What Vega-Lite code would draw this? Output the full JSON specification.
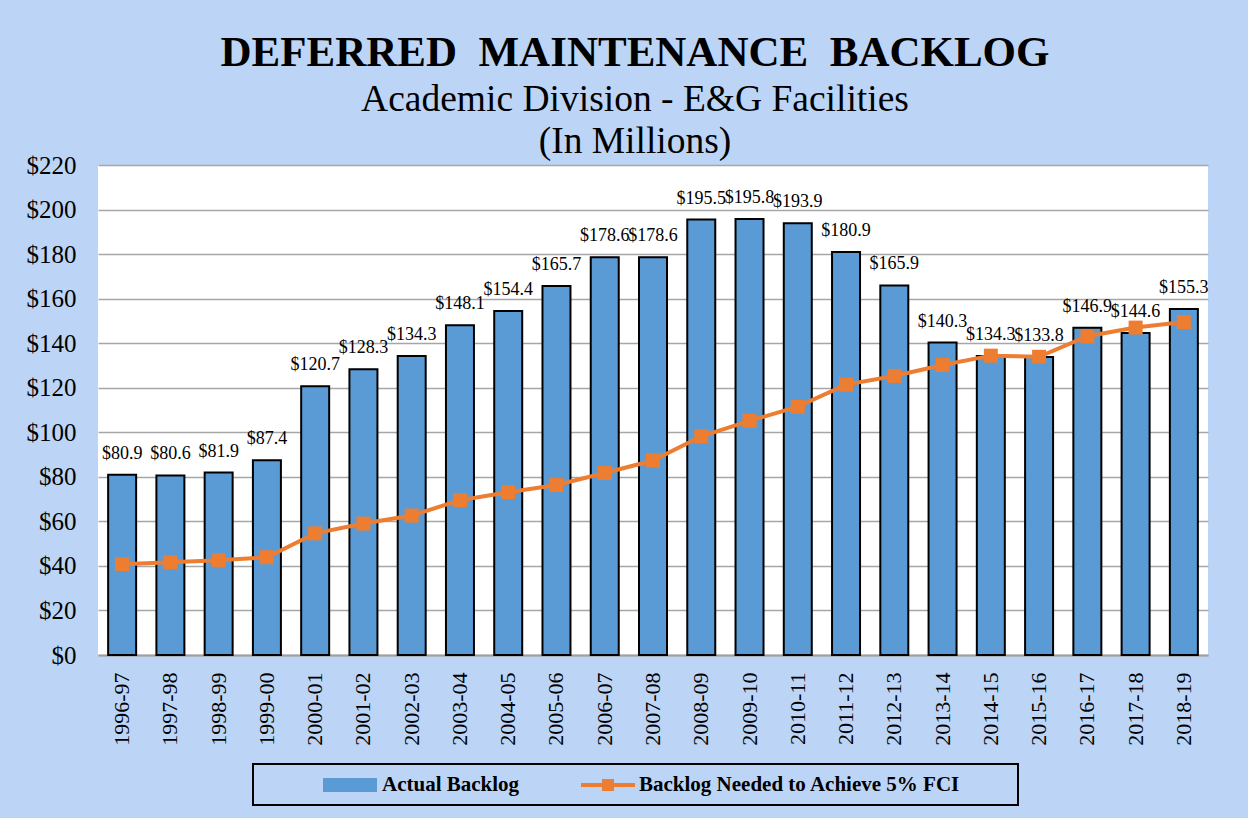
{
  "$schema": "https://vega.github.io/schema/vega-lite/v6.json",
  "width": 1110,
  "height": 490,
  "autosize": {"type": "none"},
  "padding": {"left": 98, "top": 165, "right": 40, "bottom": 163},
  "background": "#BCD5F7",
  "config": {
    "font": "Liberation Serif",
    "view": {"stroke": null, "fill": "white"},
    "legend": {"strokeWidth": 2}
  },
  "title": {
    "text": "DEFERRED\u00a0 MAINTENANCE\u00a0 BACKLOG",
    "subtitle": ["Academic Division - E&G Facilities", "(In Millions)"],
    "font": "Liberation Serif",
    "fontSize": 43,
    "fontWeight": "bold",
    "color": "black",
    "subtitleFont": "Liberation Serif",
    "subtitleFontSize": 37.5,
    "subtitleColor": "black",
    "subtitleLineHeight": 42,
    "subtitlePadding": 6,
    "anchor": "middle",
    "dx": -18,
    "offset": -7
  },
  "data": {
    "values": [
      {"period": "1996-97", "backlog": 80.9, "needed": 40.8},
      {"period": "1997-98", "backlog": 80.6, "needed": 41.6},
      {"period": "1998-99", "backlog": 81.9, "needed": 42.5},
      {"period": "1999-00", "backlog": 87.4, "needed": 43.9},
      {"period": "2000-01", "backlog": 120.7, "needed": 54.6},
      {"period": "2001-02", "backlog": 128.3, "needed": 59.0},
      {"period": "2002-03", "backlog": 134.3, "needed": 62.6},
      {"period": "2003-04", "backlog": 148.1, "needed": 69.5},
      {"period": "2004-05", "backlog": 154.4, "needed": 73.1},
      {"period": "2005-06", "backlog": 165.7, "needed": 76.3},
      {"period": "2006-07", "backlog": 178.6, "needed": 81.7},
      {"period": "2007-08", "backlog": 178.6, "needed": 87.3},
      {"period": "2008-09", "backlog": 195.5, "needed": 98.2},
      {"period": "2009-10", "backlog": 195.8, "needed": 105.1},
      {"period": "2010-11", "backlog": 193.9, "needed": 111.5},
      {"period": "2011-12", "backlog": 180.9, "needed": 121.4},
      {"period": "2012-13", "backlog": 165.9, "needed": 125.3},
      {"period": "2013-14", "backlog": 140.3, "needed": 130.2},
      {"period": "2014-15", "backlog": 134.3, "needed": 134.4},
      {"period": "2015-16", "backlog": 133.8, "needed": 133.9},
      {"period": "2016-17", "backlog": 146.9, "needed": 143.1},
      {"period": "2017-18", "backlog": 144.6, "needed": 147.0},
      {"period": "2018-19", "backlog": 155.3, "needed": 149.5}
    ]
  },
  "encoding": {
    "x": {
      "field": "period",
      "type": "ordinal",
      "sort": null,
      "scale": {"paddingInner": 0.42, "paddingOuter": 0.21},
      "axis": {
        "title": null,
        "labelAngle": -90,
        "labelFont": "Liberation Serif",
        "labelFontSize": 22,
        "labelColor": "black",
        "labelPadding": 17,
        "ticks": false,
        "domainColor": "#A0A0A0",
        "domainWidth": 2,
        "grid": false
      }
    }
  },
  "layer": [
    {
      "mark": {"type": "bar", "stroke": "black", "strokeWidth": 2},
      "encoding": {
        "y": {
          "field": "backlog",
          "type": "quantitative",
          "scale": {"domain": [0, 220], "nice": false},
          "axis": {
            "title": null,
            "values": [0, 20, 40, 60, 80, 100, 120, 140, 160, 180, 200, 220],
            "format": "$.0f",
            "labelFont": "Liberation Serif",
            "labelFontSize": 25,
            "labelColor": "black",
            "labelPadding": 22,
            "ticks": false,
            "domain": false,
            "gridColor": "#A6A6A6",
            "gridWidth": 1.5
          }
        },
        "color": {
          "datum": "Actual Backlog",
          "type": "nominal",
          "scale": {
            "domain": ["Actual Backlog", "Backlog Needed to Achieve 5% FCI"],
            "range": ["#5B9BD5", "#ED7D31"]
          },
          "legend": {
            "title": "\u00a0",
            "titleOrient": "left",
            "titlePadding": 60,
            "titleFontSize": 21,
            "orient": "none",
            "legendX": 155,
            "legendY": 599,
            "direction": "horizontal",
            "columns": 2,
            "columnPadding": 58,
            "padding": 10,
            "strokeColor": "black",
            "symbolSize": 400,
            "symbolStrokeWidth": 2,
            "symbolOpacity": 1,
            "symbolType": {"expr": "datum.value === 'Actual Backlog' ? 'M-1,-0.6H4.2V0.6H-1Z' : 'M-0.9,-0.1H1.2V-0.5H2.2V-0.1H4.3V0.1H2.2V0.5H1.2V0.1H-0.9Z'"},
            "symbolStrokeColor": {"expr": "datum.value === 'Actual Backlog' ? 'black' : '#ED7D31'"},
            "labelFont": "Liberation Serif",
            "labelFontSize": 21,
            "labelFontWeight": "bold",
            "labelColor": "black",
            "labelOffset": 37,
            "labelLimit": 500,
            "labelExpr": "datum.value === 'Actual Backlog' ? datum.label : datum.label + '\u00a0\u00a0\u00a0\u00a0\u00a0\u00a0\u00a0\u00a0\u00a0\u200b'"
          }
        }
      }
    },
    {
      "mark": {"type": "text", "baseline": "alphabetic", "dy": -16, "fontSize": 18, "font": "Liberation Serif", "color": "black"},
      "encoding": {
        "y": {"field": "backlog", "type": "quantitative"},
        "text": {"field": "backlog", "type": "quantitative", "format": "$.1f"}
      }
    },
    {
      "mark": {"type": "line", "strokeWidth": 4},
      "encoding": {
        "y": {"field": "needed", "type": "quantitative"},
        "color": {"datum": "Backlog Needed to Achieve 5% FCI", "type": "nominal"}
      }
    },
    {
      "mark": {"type": "point", "shape": "square", "filled": true, "size": 196, "opacity": 1},
      "encoding": {
        "y": {"field": "needed", "type": "quantitative"},
        "color": {"datum": "Backlog Needed to Achieve 5% FCI", "type": "nominal"}
      }
    }
  ]
}
